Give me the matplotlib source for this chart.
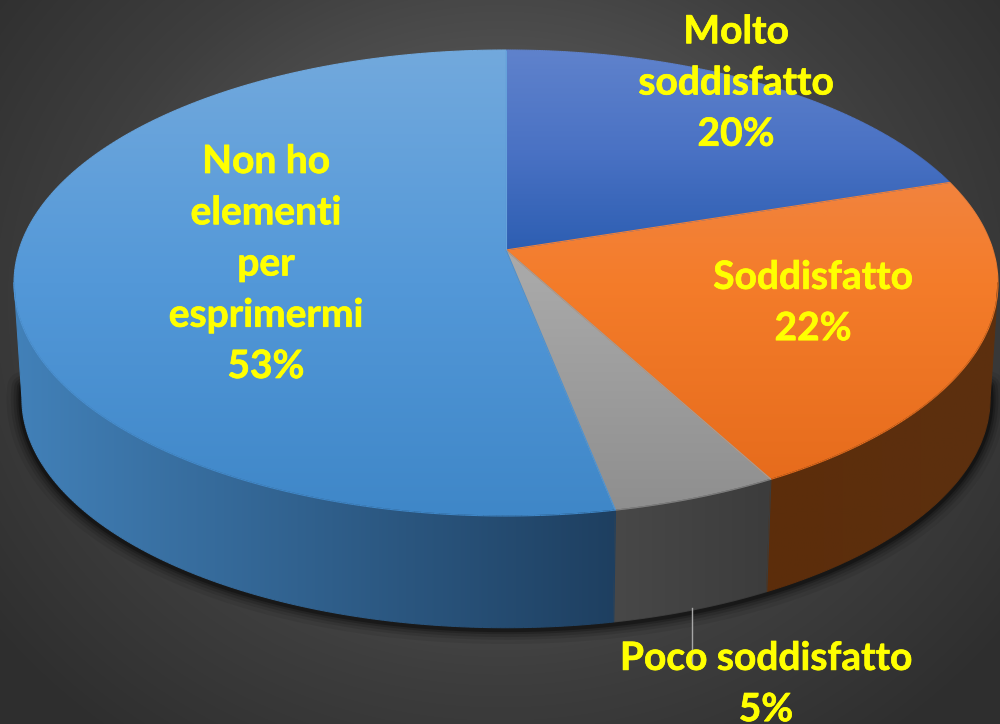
import numpy as np
import matplotlib
matplotlib.use('Agg')
import matplotlib.pyplot as plt
import matplotlib.patheffects as pe
from matplotlib.path import Path
from matplotlib.patches import PathPatch
from matplotlib.collections import LineCollection
from matplotlib.colors import LinearSegmentedColormap

# dati del grafico
categories = ['Molto\nsoddisfatto', 'Soddisfatto', 'Poco soddisfatto', 'Non ho\nelementi\nper\nesprimermi']
values = [20, 22.1, 4.8, 53.1]

top_colors = [['#5f82cc', '#4a72c4', '#2d5eb2'],
              ['#ef8d58', '#f47c2a', '#e4691a'],
              ['#b4b4b4', '#a8a8a8', '#8e8e8e'],
              ['#72a9dd', '#5398d8', '#3f87c8']]
side_colors = [['#2f4f8f', '#2f4f8f'],
               ['#5c2d0b', '#5c300f'],
               ['#484848', '#3c3c3c'],
               ['#4281b9', '#1e3f60']]
label_pos = [(736, 83), (813, 303), (766, 684), (266, 264)]
text_yellow = '#ffff00'

# geometria della torta in prospettiva
cx, cy = 506, 250
a, b, k = 487, 228.3, 0.1416
base_scale, vanish_y = 0.984, 7500


def project(theta, r=1.0):
    u = r * np.sin(theta)
    v = r * np.cos(theta)
    w = 1 + k * v
    return cx + a * u / w, cy - b * v / w


def to_base(x, y):
    return cx + base_scale * (x - cx), vanish_y + base_scale * (y - vanish_y)


def cmap_of(colors):
    return LinearSegmentedColormap.from_list('c', colors)


def gradient_fill(ax, xy, colors, vertical=True, span=None):
    path = Path(np.vstack([xy, xy[0]]), closed=True)
    x0, y0 = xy.min(axis=0)
    x1, y1 = xy.max(axis=0)
    x0, x1, y0, y1 = np.floor(x0) - 1, np.ceil(x1) + 1, np.floor(y0) - 1, np.ceil(y1) + 1
    lo, hi = span if span else ((y0, y1) if vertical else (x0, x1))
    cm = cmap_of(colors)
    if vertical:
        grid = ((np.linspace(y0, y1, 256) - lo) / (hi - lo))[:, None]
    else:
        grid = ((np.linspace(x0, x1, 256) - lo) / (hi - lo))[None, :]
    im = ax.imshow(np.clip(grid, 0, 1), cmap=cm, vmin=0, vmax=1, extent=(x0, x1, y1, y0),
                   aspect='auto', interpolation='bilinear', zorder=3)
    im.set_clip_path(PathPatch(path, transform=ax.transData))
    # bordo sottile per ammorbidire il ritaglio dell'immagine
    pts = np.vstack([xy, xy[0]])
    segs = np.stack([pts[:-1], pts[1:]], axis=1)
    coord = segs[:, :, 1 if vertical else 0].mean(axis=1)
    lc = LineCollection(segs, colors=cm(np.clip((coord - lo) / (hi - lo), 0, 1)), linewidths=0.8, zorder=3.1)
    ax.add_collection(lc)


fig = plt.figure(figsize=(10, 7.24), dpi=100)
ax = fig.add_axes([0, 0, 1, 1])
ax.axis('off')

# sfondo con gradiente radiale
yy, xx = np.mgrid[0:724, 0:1000]
dist = np.hypot((xx - 500) / 640, (yy - 300) / 560)
ax.imshow(np.clip(dist, 0, 1), cmap=cmap_of(['#686868', '#565656', '#3e3e3e', '#2e2e2e']), vmin=0, vmax=1,
          extent=(0, 1000, 724, 0), aspect='auto', zorder=0)

# ombra sotto la torta
t = np.linspace(np.radians(95), np.radians(265), 300)
bx, by = to_base(*project(t))
for lw, al in zip([22, 16, 12, 8, 5], [0.07, 0.1, 0.14, 0.2, 0.3]):
    ax.plot(bx, by + 1, color='black', lw=lw, alpha=al, zorder=1, solid_capstyle='round')

# fianchi e superficie superiore
edges = np.radians(np.cumsum([0] + values) * 3.6)
vis0, vis1 = np.radians(98), np.radians(262)
for i in range(len(values)):
    t0, t1 = max(edges[i], vis0), min(edges[i + 1], vis1)
    if t1 > t0:
        t = np.linspace(t0, t1, 200)
        x, y = project(t)
        xb, yb = to_base(x, y)
        poly = np.vstack([np.column_stack([x, y]), np.column_stack([xb, yb])[::-1]])
        gradient_fill(ax, poly, side_colors[i], vertical=False)

for i in range(len(values)):
    t = np.linspace(edges[i], edges[i + 1], 300)
    x, y = project(t)
    poly = np.vstack([[cx, cy], np.column_stack([x, y])])
    gradient_fill(ax, poly, top_colors[i], span=(50, 516) if i != 0 else (50, 250))

# linea guida e etichette
ax.plot([692, 692], [608, 667], color='#a6a6a6', lw=1, zorder=4)
for name, val, (tx, ty) in zip(categories, values, label_pos):
    txt = ax.text(tx, ty, f'{name}\n{val:.0f}%', color=text_yellow, fontsize=28, fontfamily='Lato', fontweight='bold',
                  ha='center', va='center', multialignment='center', linespacing=1.56, zorder=5)
    txt.set_path_effects([pe.withStroke(linewidth=0.5, foreground=text_yellow)])

ax.set_xlim(0, 1000)
ax.set_ylim(724, 0)
fig.savefig('out.png', dpi=100)
